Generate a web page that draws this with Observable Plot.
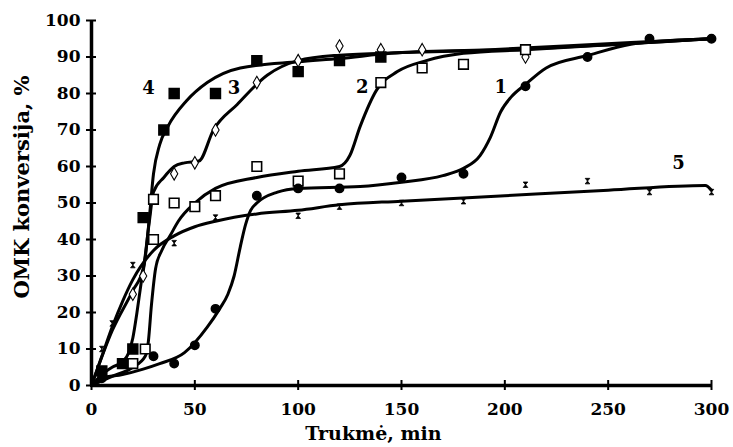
<!DOCTYPE html>
<html><head><meta charset="utf-8">
<script src="https://cdn.jsdelivr.net/npm/d3@7"></script>
<script src="https://cdn.jsdelivr.net/npm/@observablehq/plot@0.6"></script>
<style>body{margin:0;background:#fff}</style>
</head><body><div id="chart"></div>
<script>
// Measured points (time in min, conversion %)
const s1Points = [[5,2],[30,8],[40,6],[50,11],[60,21],[80,52],[100,54],[120,54],[150,57],[180,58],[210,82],[240,90],[270,95],[300,95]];
const s2Points = [[20,6],[26,10],[30,40],[30,51],[40,50],[50,49],[60,52],[80,60],[100,56],[120,58],[140,83],[160,87],[180,88],[210,92]];
const s3Points = [[5,3],[20,25],[25,30],[40,58],[50,61],[60,70],[80,83],[100,89],[120,93],[140,92],[160,92],[210,90]];
const s4Points = [[5,4],[15,6],[20,10],[25,46],[35,70],[40,80],[60,80],[80,89],[100,86],[120,89],[140,90]];
const s5Points = [[5,10],[10,17],[20,33],[40,39],[60,46],[100,46.5],[120,49],[150,50],[180,50.5],[210,55],[240,56],[270,53],[300,53]];

// Fitted curves as drawn in the figure
const s1Curve = [[0,0],[5,2],[15,3],[25,4.5],[33,6],[45,9],[56,16],[62,21],[66,25],[69,30],[72,38],[74.5,44],[77,48],[80,50],[90,53],[100,54],[130,54.5],[150,55.7],[170,57.5],[180,59.5],[188,63],[193,68],[198,75],[203,79],[210,82.5],[220,87],[240,90.4],[261,93.5],[280,94.5],[300,95]];
const s2Curve = [[0,0],[10,2.5],[20,5],[26,8],[27.5,12],[29,22],[31,32],[34,37],[38,41],[42,45],[50,50],[60,54],[80,57],[100,58.7],[120,60],[125,63],[130,71],[138,81],[148,86],[162,89],[180,91],[210,92],[300,95]];
const s3Curve = [[0,0],[10,15],[20,26],[25,32],[28,45],[30,53],[35,57],[40,60],[45,61],[52,61.5],[59,70],[70.5,77],[85,85],[100,89],[120,90.5],[150,91.2],[200,92],[300,95]];
const s4Curve = [[0,0],[5,3],[10,5],[15,6.5],[18,9],[20,13],[22,20],[24,28],[26,35],[28,46],[30,58],[33,66],[37,71],[46,78],[56,83],[72,87],[100,88.7],[120,89.6],[145,91],[193,92],[261,94],[300,95]];
const s5Curve = [[0,0],[5,8],[10,16],[15,23],[20,29],[30,37],[40,41],[50,43.5],[60,45],[80,47],[100,48],[120,49.5],[150,50.5],[200,52],[250,53.5],[297,54.8],[300,53.5]];

const curveLabels = [{t:"4",x:27.6,y:81.4},{t:"3",x:69,y:81.4},{t:"2",x:131,y:81.6},{t:"1",x:198,y:81.6},{t:"5",x:284,y:61}];
const xTicks = [0,50,100,150,200,250,300];
const yTicks = [0,10,20,30,40,50,60,70,80,90,100];
const xLabel = "Trukmė, min";
const yLabel = "OMK konversija, %";

const hourglass = {draw(ctx, size){ const s = Math.sqrt(size)/2; ctx.moveTo(-s,-s*1.2); ctx.lineTo(s,-s*1.2); ctx.lineTo(-s,s*1.2); ctx.lineTo(s,s*1.2); ctx.closePath(); }};

const font = "'DejaVu Serif', 'Liberation Serif', serif";
const lineOpts = {x: d=>d[0], y: d=>d[1], curve: "monotone-x", stroke: "black", strokeWidth: 3};

const chart = Plot.plot({
  width: 733, height: 447,
  marginLeft: 91, marginRight: 22, marginTop: 20, marginBottom: 62,
  style: {fontFamily: font, fontWeight: "bold", fontSize: "17px", color: "black", background: "white"},
  x: {domain: [0,300]},
  y: {domain: [0,100]},
  marks: [
    Plot.axisX({ticks: xTicks, tickSize: 0, tickPadding: 17, label: null, fontSize: 17, fontWeight: "bold"}),
    Plot.axisY({ticks: yTicks, tickSize: 0, tickPadding: 11, label: null, fontSize: 17, fontWeight: "bold"}),
    Plot.ruleX(xTicks, {x: d=>d, y1: 0, y2: 0, insetTop: -5, insetBottom: -5, stroke: "black", strokeWidth: 2}),
    Plot.ruleY(yTicks, {y: d=>d, x1: 0, x2: 0, insetLeft: -5, insetRight: -5, stroke: "black", strokeWidth: 2}),
    Plot.ruleY([0], {x1: 0, x2: 300, stroke: "black", strokeWidth: 3.5}),
    Plot.ruleX([0], {y1: 0, y2: 100, stroke: "black", strokeWidth: 3.5}),
    Plot.line(s1Curve, lineOpts),
    Plot.line(s2Curve, lineOpts),
    Plot.line(s3Curve, lineOpts),
    Plot.line(s4Curve, lineOpts),
    Plot.line(s5Curve, lineOpts),
    Plot.dot(s5Points, {x: d=>d[0], y: d=>d[1], symbol: hourglass, r: 2.6, fill: "black", stroke: "black", strokeWidth: 0.8}),
    Plot.dot(s3Points, {x: d=>d[0], y: d=>d[1], symbol: "diamond", r: 3.8, fill: "white", stroke: "black", strokeWidth: 1.1}),
    Plot.dot(s2Points, {x: d=>d[0], y: d=>d[1], symbol: "square", r: 5.4, fill: "white", stroke: "black", strokeWidth: 1.6}),
    Plot.dot(s4Points, {x: d=>d[0], y: d=>d[1], symbol: "square", r: 5.6, fill: "black", stroke: "black"}),
    Plot.dot(s1Points, {x: d=>d[0], y: d=>d[1], symbol: "circle", r: 4.2, fill: "black", stroke: "black"}),
    Plot.text(curveLabels, {x: "x", y: "y", text: "t", fontSize: 18, fontWeight: "bold", fill: "black"}),
    Plot.text([xLabel], {frameAnchor: "bottom", dy: 54, dx: -28, fontSize: 19, fontWeight: "bold", fill: "black"}),
    Plot.text([yLabel], {frameAnchor: "left", textAnchor: "middle", lineAnchor: "middle", rotate: -90, dx: -69, dy: -16, fontSize: 21, fontWeight: "bold", fill: "black"})
  ]
});
document.getElementById("chart").append(chart);
</script>
</body></html>
